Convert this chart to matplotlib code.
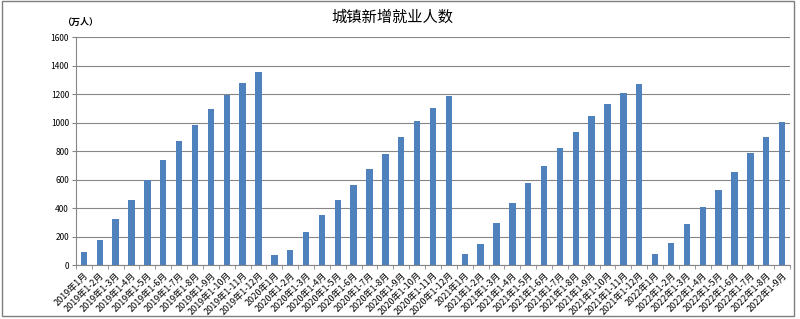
import numpy as np
import matplotlib.pyplot as plt
from matplotlib.patches import Rectangle

plt.rcParams['font.family'] = ['Noto Sans CJK SC', 'DejaVu Sans']

# 月份标签
labels = []
for anio, meses in [(2019, 12), (2020, 12), (2021, 12), (2022, 9)]:
    labels.append(f'{anio}年1月')
    for m in range(2, meses + 1):
        labels.append(f'{anio}年1-{m}月')

# 城镇新增就业人数（万人），累计值
v2019 = [90, 174, 324, 459, 597, 737, 867, 984, 1097, 1193, 1279, 1352]
v2020 = [70, 108, 229, 354, 460, 564, 671, 781, 898, 1009, 1099, 1186]
v2021 = [75, 151, 297, 437, 574, 698, 822, 936, 1045, 1133, 1207, 1269]
v2022 = [75, 157, 285, 406, 529, 654, 783, 898, 1001]
valores = v2019 + v2020 + v2021 + v2022

fig = plt.figure(figsize=(8, 3.19), dpi=100)
ax = fig.add_axes([0.095, 0.169, 0.8925, 0.715])

x = np.arange(len(valores))
ax.bar(x, valores, width=0.4, color='#4F81BD', zorder=3)

ax.set_xlim(-0.5, len(valores) - 0.5)
ax.set_ylim(0, 1600)
ax.set_yticks(range(0, 1601, 200))
ax.tick_params(axis='y', labelsize=6, length=3, color='#868686', pad=2)
ax.yaxis.grid(True, color='#868686', linewidth=0.8, zorder=0)

ax.set_xticks(x)
ax.set_xticklabels(labels, rotation=45, ha='right', rotation_mode='anchor', fontsize=6.5)
ax.tick_params(axis='x', which='major', length=0, pad=4)
ax.set_xticks(np.arange(-0.5, len(valores), 1), minor=True)
ax.tick_params(axis='x', which='minor', length=3, color='#868686')

for lado in ['top', 'right']:
    ax.spines[lado].set_visible(False)
ax.spines['left'].set_color('#868686')
ax.spines['bottom'].set_color('#868686')

fig.text(0.49, 0.945, '城镇新增就业人数', ha='center', va='center', fontsize=11)
fig.text(0.1, 0.93, '（万人）', ha='center', va='center', fontsize=6.5, fontweight='bold')

fig.patches.append(Rectangle((0.003, 0.008), 0.989, 0.988, transform=fig.transFigure,
                             fill=False, edgecolor='#7f7f7f', linewidth=1))

plt.savefig('out.png', dpi=100)
